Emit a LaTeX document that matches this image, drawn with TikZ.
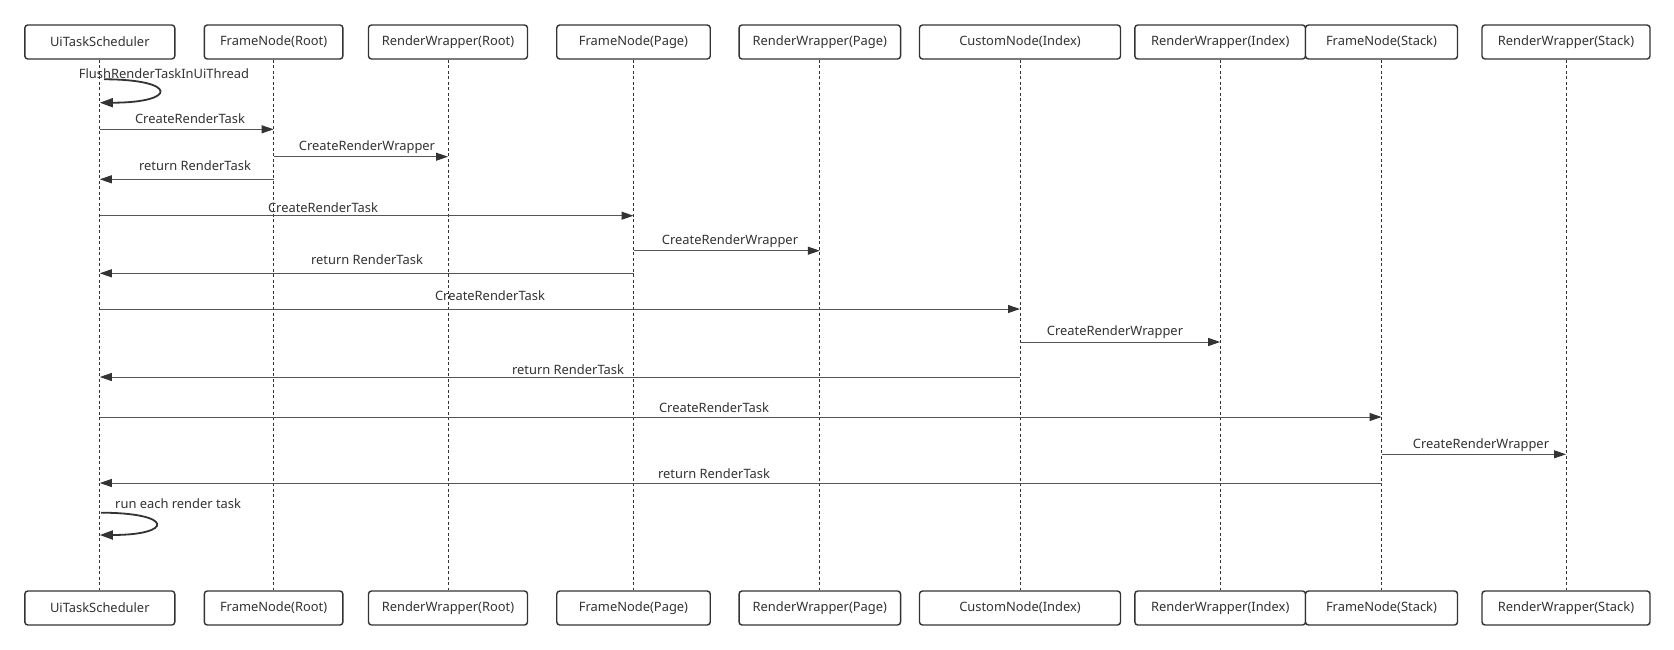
\documentclass[tikz,border=0pt]{standalone}
\usepackage{fontspec}
\setmainfont{Noto Sans}
\usetikzlibrary{arrows.meta}
\definecolor{ink}{HTML}{333333}
\definecolor{msgc}{HTML}{555555}
\begin{document}
\begin{tikzpicture}[x=1pt,y=-1pt,
  actor/.style={draw=ink, line width=1.4pt, rounded corners=3pt, fill=white,
    minimum height=34pt, inner sep=0pt, text=ink, font=\fontsize{12.9}{15}\selectfont},
  lifeline/.style={draw=ink, line width=0.9pt, dash pattern=on 3pt off 2.5pt},
  msg/.style={draw=msgc, line width=1pt, -{Triangle[length=12pt,width=8pt,color=ink]}},
  selfmsg/.style={draw=ink, line width=1.8pt, -{Triangle[length=13pt,width=9pt]}},
  lbl/.style={anchor=base, text=ink, inner sep=0pt, font=\fontsize{12.9}{15}\selectfont}]
\useasboundingbox (0,0) rectangle (1674,649);
% top actors
\node[actor, minimum width=150pt] (t1) at (99.8,42) {UiTaskScheduler};
\node[actor, minimum width=138.6pt] (t2) at (273.6,42) {FrameNode(Root)};
\node[actor, minimum width=159pt] (t3) at (448,42) {RenderWrapper(Root)};
\node[actor, minimum width=153.5pt] (t4) at (633.5,42) {FrameNode(Page)};
\node[actor, minimum width=161.5pt] (t5) at (819.8,42) {RenderWrapper(Page)};
\node[actor, minimum width=201pt] (t6) at (1020,42) {CustomNode(Index)};
\node[actor, minimum width=170.7pt] (t7) at (1220.2,42) {RenderWrapper(Index)};
\node[actor, minimum width=152pt] (t8) at (1381.5,42) {FrameNode(Stack)};
\node[actor, minimum width=168pt] (t9) at (1566,42) {RenderWrapper(Stack)};
% bottom actors
\node[actor, minimum width=150pt] (b1) at (99.8,608) {UiTaskScheduler};
\node[actor, minimum width=138.6pt] (b2) at (273.6,608) {FrameNode(Root)};
\node[actor, minimum width=159pt] (b3) at (448,608) {RenderWrapper(Root)};
\node[actor, minimum width=153.5pt] (b4) at (633.5,608) {FrameNode(Page)};
\node[actor, minimum width=161.5pt] (b5) at (819.8,608) {RenderWrapper(Page)};
\node[actor, minimum width=201pt] (b6) at (1020,608) {CustomNode(Index)};
\node[actor, minimum width=170.7pt] (b7) at (1220.2,608) {RenderWrapper(Index)};
\node[actor, minimum width=152pt] (b8) at (1381.5,608) {FrameNode(Stack)};
\node[actor, minimum width=168pt] (b9) at (1566,608) {RenderWrapper(Stack)};
% lifelines
\foreach \i in {1,...,9} { \draw[lifeline] (t\i.south) -- (b\i.north); }
% self message 1
\coordinate (s1a) at (104,79.3);
\draw[selfmsg] (s1a) .. controls (178,79.3) and (178,102.7) .. (t1.south |- 0,102.7);
\node[lbl] (l1) at (164,78) {FlushRenderTaskInUiThread};
% messages
\draw[msg] (t1.south |- 0,129.3) -- (t2.south |- 0,129.3);
\node[lbl] (l2) at (190,123) {CreateRenderTask};
\draw[msg] (t2.south |- 0,156.7) -- (t3.south |- 0,156.7);
\node[lbl] (l3) at (367,150.4) {CreateRenderWrapper};
\draw[msg] (t2.south |- 0,179.3) -- (t1.south |- 0,179.3);
\node[lbl] (l4) at (195,170.4) {return RenderTask};
\draw[msg] (t1.south |- 0,215.7) -- (t4.south |- 0,215.7);
\node[lbl] (l5) at (323,212) {CreateRenderTask};
\draw[msg] (t4.south |- 0,250.7) -- (t5.south |- 0,250.7);
\node[lbl] (l6) at (730,244) {CreateRenderWrapper};
\draw[msg] (t4.south |- 0,273.3) -- (t1.south |- 0,273.3);
\node[lbl] (l7) at (367,264) {return RenderTask};
\draw[msg] (t1.south |- 0,309) -- (t6.south |- 0,309);
\node[lbl] (l8) at (490,300.4) {CreateRenderTask};
\draw[msg] (t6.south |- 0,342) -- (t7.south |- 0,342);
\node[lbl] (l9) at (1115,335) {CreateRenderWrapper};
\draw[msg] (t6.south |- 0,377) -- (t1.south |- 0,377);
\node[lbl] (l10) at (568,374) {return RenderTask};
\draw[msg] (t1.south |- 0,417) -- (t8.south |- 0,417);
\node[lbl] (l11) at (714,412) {CreateRenderTask};
\draw[msg] (t8.south |- 0,454.3) -- (t9.south |- 0,454.3);
\node[lbl] (l12) at (1481,448) {CreateRenderWrapper};
\draw[msg] (t8.south |- 0,483) -- (t1.south |- 0,483);
\node[lbl] (l13) at (714,478) {return RenderTask};
% self message 2
\coordinate (s2a) at (101,512.7);
\draw[selfmsg] (s2a) .. controls (174,512.7) and (174,535) .. (t1.south |- 0,535);
\node[lbl, anchor=base west] (l14) at (115,508) {run each render task};
\end{tikzpicture}
\end{document}
